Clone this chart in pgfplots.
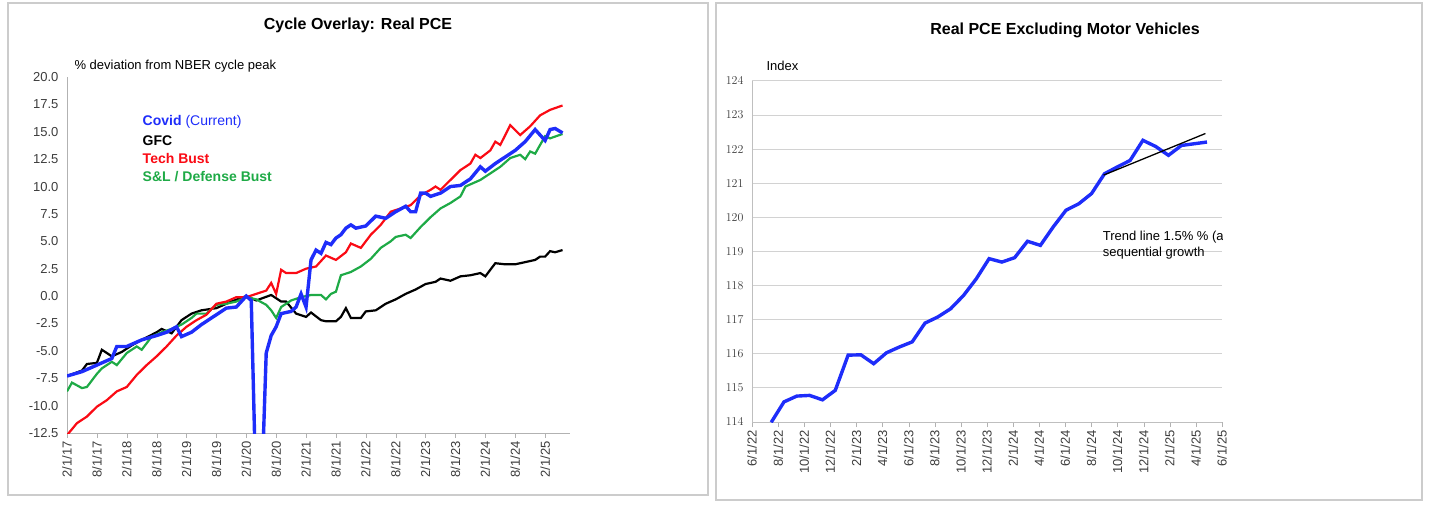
\documentclass[border=0pt]{standalone}
\usepackage{pgfplots}
\pgfplotsset{compat=1.18}
\usepackage{fontspec}
\setmainfont{Liberation Sans}
\definecolor{cblue}{RGB}{30,45,250}
\definecolor{cred}{RGB}{250,10,20}
\definecolor{cgreen}{RGB}{30,170,70}
\definecolor{tick}{RGB}{60,60,60}
\begin{document}
\begin{tikzpicture}
\path (0pt,0pt) rectangle (1431pt,509pt);
\draw[gray!40,line width=1.2pt] (8pt,14pt) rectangle (708pt,506pt);
\draw[gray!40,line width=1.2pt] (716pt,9pt) rectangle (1422pt,506pt);
\node[font=\bfseries\fontsize{16}{18}\selectfont] at (358pt,484pt) {Cycle Overlay: Real PCE};
\node[font=\bfseries\fontsize{16}{18}\selectfont] at (1065pt,479pt) {Real PCE Excluding Motor Vehicles};
\node[anchor=west,font=\fontsize{13}{15}\selectfont] at (71pt,443pt) {\% deviation from NBER cycle peak};
\node[anchor=west,font=\fontsize{13}{15}\selectfont] at (763pt,443pt) {Index};
\begin{axis}[at={(67pt,76pt)},anchor=south west,scale only axis,width=503pt,height=356pt,
  xmin=0,xmax=101,ymin=-12.5,ymax=20,
  axis lines*=left, axis line style={gray!60,line width=1pt},
  ytick={-12.5,-10,-7.5,-5,-2.5,0,2.5,5,7.5,10,12.5,15,17.5,20},
  yticklabel style={/pgf/number format/.cd,fixed,fixed zerofill,precision=1,assume math mode=true},
  xtick={0,6,...,96},
  xticklabels={2/1/17,8/1/17,2/1/18,8/1/18,2/1/19,8/1/19,2/1/20,8/1/20,2/1/21,8/1/21,2/1/22,8/1/22,2/1/23,8/1/23,2/1/24,8/1/24,2/1/25},
  xticklabel style={rotate=90,anchor=east},
  ticklabel style={font=\fontsize{13}{15}\selectfont,text=tick},
  ytick style={draw=none}, xtick style={gray!60},
  tick align=outside, major tick length=5pt]
\addplot[black,line width=2.2pt] coordinates {(0,-7.3)(3,-6.8)(4,-6.2)(6,-6.1)(7,-4.9)(9,-5.5)(11,-5.1)(13,-4.5)(15,-4.0)(18,-3.3)(19,-3.0)(21,-3.4)(23,-2.2)(25,-1.6)(27,-1.3)(30,-1.1)(33,-0.5)(36,0)(38,-0.4)(41,0.1)(43,-0.5)(44,-0.5)(46,-1.6)(48,-1.9)(49,-1.5)(51,-2.2)(52,-2.3)(54,-2.3)(55,-1.9)(56,-1.1)(57,-2.0)(59,-2.0)(60,-1.4)(62,-1.3)(64,-0.7)(66,-0.3)(68,0.2)(70,0.6)(72,1.1)(74,1.3)(75,1.6)(77,1.4)(79,1.8)(81,1.9)(83,2.1)(84,1.8)(86,3.0)(88,2.9)(90,2.9)(92,3.1)(94,3.3)(95,3.6)(96,3.6)(97,4.1)(98,4.0)(99.5,4.2)};
\addplot[cgreen,line width=2.2pt] coordinates {(0,-8.7)(1,-7.9)(3,-8.4)(4,-8.3)(6,-7.1)(7,-6.6)(9,-6.0)(10,-6.3)(12,-5.2)(14,-4.6)(15,-4.9)(17,-3.7)(19,-3.3)(21,-3.0)(23,-2.6)(25,-2.0)(26,-1.6)(28,-1.6)(30,-0.8)(32,-0.7)(34,-0.5)(36,-0.1)(38,-0.3)(40,-0.8)(41,-1.3)(42,-2.0)(43,-1.0)(45,-0.4)(47,-0.1)(49,0.1)(51,0.1)(52,-0.3)(53,0.2)(54,0.4)(55,1.9)(57,2.2)(59,2.7)(61,3.4)(63,4.4)(65,5.0)(66,5.4)(68,5.6)(69,5.3)(71,6.3)(73,7.2)(75,8.0)(77,8.5)(79,9.1)(80,10.0)(82,10.4)(83,10.6)(85,11.2)(87,11.8)(89,12.6)(91,12.9)(92,12.5)(93,13.2)(94,13.0)(96,14.6)(97,14.4)(99.5,14.8)};
\addplot[cred,line width=2.2pt] coordinates {(0,-12.7)(2,-11.6)(4,-11.0)(6,-10.1)(8,-9.5)(10,-8.7)(12,-8.3)(14,-7.2)(16,-6.3)(18,-5.5)(20,-4.6)(22,-3.6)(24,-2.8)(26,-2.2)(28,-1.7)(30,-0.7)(32,-0.5)(34,-0.1)(36,-0.1)(38,0.2)(40,0.5)(41,1.2)(42,0.2)(43,2.4)(44,2.1)(46,2.1)(48,2.5)(50,2.7)(52,3.7)(54,3.3)(56,4.0)(57,4.8)(59,4.4)(61,5.6)(63,6.5)(65,7.7)(67,8.0)(69,8.3)(71,9.2)(73,9.7)(74,10.0)(75,9.7)(77,10.6)(79,11.5)(81,12.1)(82,12.9)(83,12.6)(85,13.3)(86,14.1)(87,13.8)(89,15.6)(91,14.7)(93,15.5)(95,16.5)(97,17.0)(99.5,17.4)};
\addplot[cblue,line width=3.4pt] coordinates {(0,-7.3)(3,-6.9)(6,-6.3)(9,-5.7)(10,-4.6)(12,-4.6)(15,-4.0)(18,-3.6)(20,-3.3)(22,-2.8)(23,-3.7)(25,-3.3)(27,-2.6)(30,-1.7)(32,-1.1)(34,-1.0)(35,-0.5)(36,0)(37,-0.4)(38,-19)(39,-19)(40,-5.2)(41,-3.6)(42,-2.8)(43,-1.6)(45,-1.4)(46,-1.0)(47,0.2)(48,-1.0)(49,3.3)(50,4.2)(51,3.9)(52,4.9)(53,4.7)(54,5.3)(55,5.6)(56,6.2)(57,6.5)(58,6.2)(60,6.4)(62,7.3)(64,7.1)(66,7.7)(68,8.2)(69,7.7)(70,7.7)(71,9.4)(72,9.4)(73,9.1)(75,9.4)(77,10.0)(79,10.1)(81,10.7)(83,11.8)(84,11.4)(86,12.1)(88,12.7)(90,13.3)(92,14.1)(94,15.2)(95,14.7)(96,14.2)(97,15.2)(98,15.3)(99.5,14.9)};
\node[anchor=west,font=\fontsize{14}{16}\selectfont,text=cblue] at (axis cs:14.5,15.9) {\bfseries Covid \mdseries(Current)};
\node[anchor=west,font=\bfseries\fontsize{14}{16}\selectfont,text=black] at (axis cs:14.5,14.2) {GFC};
\node[anchor=west,font=\bfseries\fontsize{14}{16}\selectfont,text=cred] at (axis cs:14.5,12.6) {Tech Bust};
\node[anchor=west,font=\bfseries\fontsize{14}{16}\selectfont,text=cgreen] at (axis cs:14.5,10.9) {S\&L / Defense Bust};
\end{axis}
\begin{axis}[at={(752pt,87pt)},anchor=south west,scale only axis,width=470pt,height=341pt,
  xmin=0,xmax=36,ymin=114,ymax=124,
  axis lines*=left, axis line style={gray!50,line width=1pt},
  ytick={114,...,124}, ymajorgrids, grid style={gray!35,line width=1pt},
  xtick={0,2,...,36},
  xticklabels={6/1/22,8/1/22,10/1/22,12/1/22,2/1/23,4/1/23,6/1/23,8/1/23,10/1/23,12/1/23,2/1/24,4/1/24,6/1/24,8/1/24,10/1/24,12/1/24,2/1/25,4/1/25,6/1/25},
  xticklabel style={rotate=90,anchor=east},
  ticklabel style={font=\fontsize{13}{15}\selectfont,text=tick},
  ytick style={draw=none}, xtick style={gray!60},
  tick align=outside, major tick length=5pt]
\addplot[cblue,line width=3.4pt] coordinates {(1.47,113.99)(2.45,114.59)(3.43,114.76)(4.41,114.78)(5.40,114.65)(6.38,114.93)(7.36,115.96)(8.34,115.97)(9.32,115.71)(10.30,116.03)(11.29,116.20)(12.27,116.35)(13.25,116.90)(14.23,117.08)(15.21,117.32)(16.20,117.71)(17.18,118.20)(18.16,118.79)(19.14,118.69)(20.12,118.82)(21.10,119.30)(22.09,119.18)(23.07,119.72)(24.05,120.21)(25.03,120.40)(26.01,120.70)(27.00,121.28)(27.98,121.48)(28.96,121.67)(29.94,122.26)(30.92,122.08)(31.90,121.82)(32.89,122.11)(33.87,122.16)(34.85,122.21)};
\addplot[black,line width=1.3pt] coordinates {(26.93,121.24)(34.73,122.46)};
\node[anchor=north west,align=left,font=\fontsize{13}{16}\selectfont] at (axis cs:26.6,119.7) {Trend line 1.5\% \% (ar)\\sequential growth};
\end{axis}
\end{tikzpicture}
\end{document}
